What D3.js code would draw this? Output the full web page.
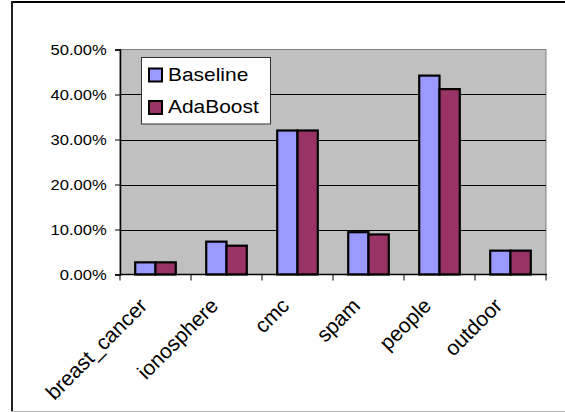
<!DOCTYPE html>
<html>
<head>
<meta charset="utf-8">
<script src="https://cdn.jsdelivr.net/npm/d3@7"></script>
<style>
  html, body { margin: 0; padding: 0; background: #fff; }
  svg { display: block; font-family: "Liberation Sans", Arial, sans-serif; }
</style>
</head>
<body>
<svg id="chart" width="565" height="412"></svg>
<script>
// Error rate per dataset, in percent
const categories = ["breast_cancer", "ionosphere", "cmc", "spam", "people", "outdoor"];
const seriesNames = ["Baseline", "AdaBoost"];
const baselineValues = [2.7, 7.3, 32.0, 9.4, 44.2, 5.3];
const adaboostValues = [2.7, 6.4, 32.0, 8.9, 41.2, 5.3];
const yTicks = [0, 10, 20, 30, 40, 50];
const seriesColors = ["#9999FF", "#993366"];

const seriesValues = [baselineValues, adaboostValues];
const rows = categories.map((c, i) => ({
  category: c,
  values: seriesNames.map((s, j) => ({ series: s, value: seriesValues[j][i], color: seriesColors[j] }))
}));

const svg = d3.select("#chart");

// outer chart frame
svg.append("line").attr("x1", 12).attr("y1", 2).attr("x2", 565).attr("y2", 2)
  .attr("stroke", "#000").attr("stroke-width", 2);
svg.append("line").attr("x1", 12).attr("y1", 1).attr("x2", 12).attr("y2", 411)
  .attr("stroke", "#222").attr("stroke-width", 2);
svg.append("line").attr("x1", 11).attr("y1", 411.5).attr("x2", 565).attr("y2", 411.5)
  .attr("stroke", "#b4b4b4").attr("stroke-width", 1);

const plot = { left: 120, right: 546, top: 49.5, bottom: 274.5 };

const x0 = d3.scaleBand().domain(categories).range([plot.left, plot.right]).padding(0);
const x1 = d3.scaleBand().domain(seriesNames).range([0, x0.bandwidth()])
  .paddingInner(0).paddingOuter(0.75);
const y = d3.scaleLinear().domain([0, 50]).range([plot.bottom, plot.top]);

// plot area
svg.append("rect")
  .attr("x", plot.left).attr("y", plot.top)
  .attr("width", plot.right - plot.left).attr("height", plot.bottom - plot.top)
  .attr("fill", "#C0C0C0").attr("stroke", "#808080").attr("stroke-width", 1);

// gridlines
svg.append("g").selectAll("line")
  .data(yTicks.filter(t => t > 0 && t < 50))
  .join("line")
  .attr("x1", plot.left).attr("x2", plot.right)
  .attr("y1", d => Math.round(y(d)) + 0.5).attr("y2", d => Math.round(y(d)) + 0.5)
  .attr("stroke", "#000").attr("stroke-width", 1);

// bars
const groups = svg.append("g").selectAll("g")
  .data(rows).join("g")
  .attr("transform", d => `translate(${x0(d.category)},0)`);
groups.selectAll("rect")
  .data(d => d.values).join("rect")
  .attr("x", d => x1(d.series))
  .attr("y", d => y(d.value))
  .attr("width", x1.bandwidth())
  .attr("height", d => y(0) - y(d.value))
  .attr("fill", d => d.color)
  .attr("stroke", "#000").attr("stroke-width", 2.2);

// y axis
const yAxis = svg.append("g")
  .attr("transform", `translate(${plot.left},0)`)
  .call(d3.axisLeft(y).tickValues(yTicks).tickSize(5).tickPadding(8)
    .tickFormat(d => d3.format(".2f")(d) + "%"));
yAxis.select(".domain").attr("stroke", "#000").attr("stroke-width", 1.5);
yAxis.selectAll(".tick line").attr("stroke", "#000");
yAxis.selectAll(".tick text")
  .attr("font-size", 14.8).attr("fill", "#000")
  .attr("font-family", "'Liberation Sans', Arial, sans-serif")
  .attr("x", -13.3 / 1.12)
  .attr("transform", "scale(1.12,1)");

// x axis with ticks between categories
const xAxis = svg.append("g").attr("transform", `translate(0,${plot.bottom})`);
xAxis.append("line").attr("x1", plot.left).attr("x2", plot.right + 1)
  .attr("stroke", "#000").attr("stroke-width", 1.5);
xAxis.selectAll(".sep")
  .data(categories.concat([null]))
  .join("line")
  .attr("class", "sep")
  .attr("x1", (d, i) => plot.left + i * x0.step())
  .attr("x2", (d, i) => plot.left + i * x0.step())
  .attr("y1", 0).attr("y2", 6)
  .attr("stroke", "#000");

// rotated category labels
svg.append("g").selectAll("text")
  .data(categories).join("text")
  .attr("transform", d => `translate(${x0(d) + x0.bandwidth() / 2 - 7},307) rotate(-45)`)
  .attr("text-anchor", "end")
  .attr("font-size", 21)
  .attr("fill", "#000")
  .text(d => d);

// legend
const legend = svg.append("g");
legend.append("rect")
  .attr("x", 141.5).attr("y", 57.5).attr("width", 129).attr("height", 66.5)
  .attr("fill", "#fff").attr("stroke", "#333").attr("stroke-width", 1);
const legendItems = legend.selectAll("g.item")
  .data(seriesNames).join("g").attr("class", "item")
  .attr("transform", (d, i) => `translate(0,${i * 32.5})`);
legendItems.append("rect")
  .attr("x", 149).attr("y", 68.5).attr("width", 13).attr("height", 13)
  .attr("fill", (d, i) => seriesColors[i])
  .attr("stroke", "#000").attr("stroke-width", 2);
legendItems.append("text")
  .attr("x", 168 / 1.12).attr("y", 81)
  .attr("transform", "scale(1.12,1)")
  .attr("font-size", 18.7).attr("fill", "#000")
  .text(d => d);
</script>
</body>
</html>
